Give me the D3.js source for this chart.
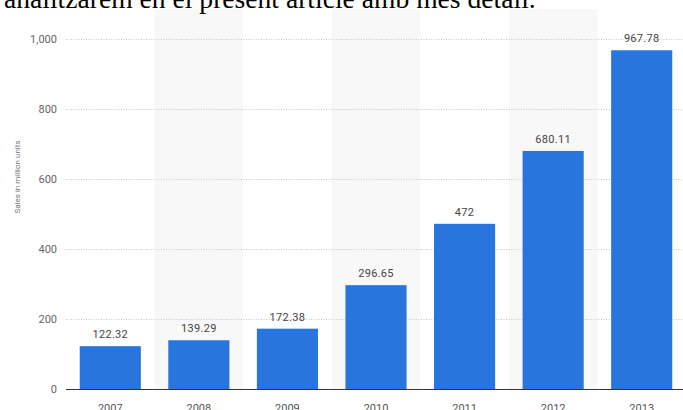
<!DOCTYPE html>
<html>
<head>
<meta charset="utf-8">
<script src="https://cdn.jsdelivr.net/npm/d3@7"></script>
<style>
  html, body { margin: 0; padding: 0; background: #fff; overflow: hidden; }
  svg { display: block; }
</style>
</head>
<body>
<svg id="chart" width="683" height="410"></svg>
<script>
// Smartphone sales, in million units
const years = ["2007", "2008", "2009", "2010", "2011", "2012", "2013"];
const sales = [122.32, 139.29, 172.38, 296.65, 472, 680.11, 967.78];
const valueLabels = ["122.32", "139.29", "172.38", "296.65", "472", "680.11", "967.78"];
const yTicks = [0, 200, 400, 600, 800, 1000];
const yTitle = "Sales in million units";
const leadText = "analitzarem en el present article amb més detall.";

const svg = d3.select("#chart");
const W = 683, H = 410;
const plot = { left: 66, right: 686, top: 39, bottom: 389 };

const x = d3.scaleBand().domain(years).range([plot.left, plot.right]).paddingInner(0).paddingOuter(0);
const barPad = 0.155;
const y = d3.scaleLinear().domain([0, 1000]).range([plot.bottom, plot.top]);

// Alternating shaded column bands
svg.append("g").selectAll("rect")
  .data(years.filter((d, i) => i % 2 === 1))
  .join("rect")
  .attr("x", d => x(d))
  .attr("width", x.bandwidth())
  .attr("y", 9)
  .attr("height", plot.bottom - 9)
  .attr("fill", "#f8f8f8");

// Paragraph line running above the chart
svg.append("text")
  .attr("x", 4).attr("y", 8)
  .attr("font-family", "'Liberation Serif', 'Times New Roman', serif")
  .attr("font-size", 27.6)
  .attr("fill", "#000")
  .text(leadText);

// Horizontal dotted grid lines + left tick labels
const yAxis = d3.axisLeft(y).tickValues(yTicks).tickFormat(d3.format(",")).tickSize(0).tickPadding(9);
const gy = svg.append("g").attr("transform", `translate(${plot.left},0)`).call(yAxis);
gy.select(".domain").remove();
gy.selectAll("text")
  .attr("font-family", "Roboto, 'Open Sans', sans-serif")
  .attr("font-size", 11)
  .attr("fill", "#666");

svg.append("g").selectAll("line")
  .data(yTicks.filter(d => d > 0))
  .join("line")
  .attr("x1", plot.left).attr("x2", W)
  .attr("y1", d => Math.round(y(d)) + 0.5).attr("y2", d => Math.round(y(d)) + 0.5)
  .attr("stroke", "#c8c8c8")
  .attr("stroke-width", 1)
  .attr("stroke-dasharray", "1,1.5");

// Bars
const rows = years.map((yr, i) => ({ yr, v: sales[i], label: valueLabels[i] }));
const bw = x.bandwidth() * (1 - 2 * barPad);
svg.append("g").selectAll("rect")
  .data(rows)
  .join("rect")
  .attr("x", d => x(d.yr) + x.bandwidth() * barPad)
  .attr("width", bw)
  .attr("y", d => y(d.v))
  .attr("height", d => y(0) - y(d.v))
  .attr("fill", "#2876dd");

// Value labels above bars
svg.append("g").selectAll("text")
  .data(rows)
  .join("text")
  .attr("x", d => x(d.yr) + x.bandwidth() / 2)
  .attr("y", d => y(d.v) - 8)
  .attr("text-anchor", "middle")
  .attr("font-family", "Roboto, 'Open Sans', sans-serif")
  .attr("font-size", 11)
  .attr("letter-spacing", 0.3)
  .attr("fill", "#444")
  .text(d => d.label);

// Baseline
svg.append("line")
  .attr("x1", plot.left).attr("x2", W)
  .attr("y1", y(0) + 0.5).attr("y2", y(0) + 0.5)
  .attr("stroke", "#333").attr("stroke-width", 1.2);

// Category axis
const xAxis = d3.axisBottom(x).tickSize(0).tickPadding(15);
const gx = svg.append("g").attr("transform", `translate(0,${plot.bottom})`).call(xAxis);
gx.select(".domain").remove();
gx.selectAll("text")
  .attr("font-family", "Roboto, 'Open Sans', sans-serif")
  .attr("font-size", 11)
  .attr("fill", "#555");

// Y axis title
svg.append("text")
  .attr("transform", "translate(20,177) rotate(-90)")
  .attr("text-anchor", "middle")
  .attr("font-family", "Roboto, 'Open Sans', sans-serif")
  .attr("font-size", 8)
  .attr("fill", "#777")
  .text(yTitle);
</script>
</body>
</html>
